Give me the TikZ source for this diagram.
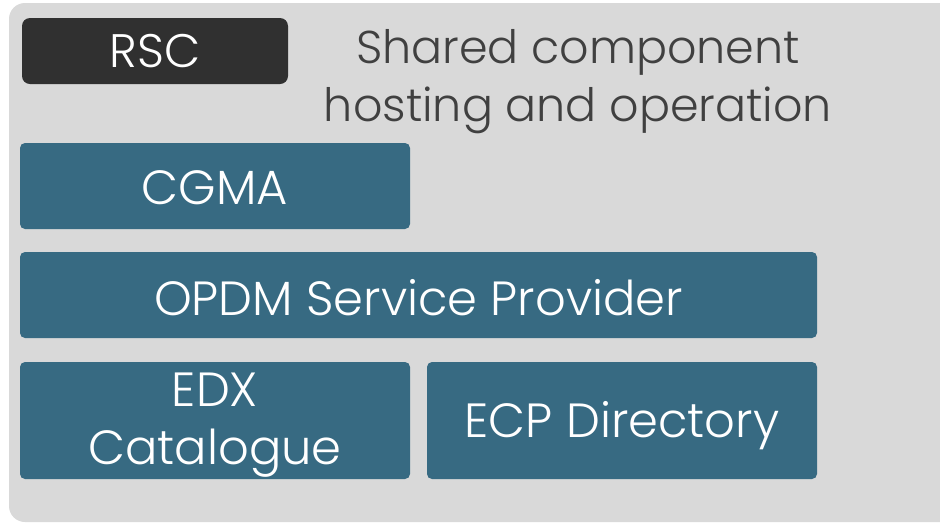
\documentclass[tikz,border=0pt]{standalone}
\usepackage{fontspec}
\setmainfont{Poppins Light}
\definecolor{panelgray}{HTML}{D9D9D9}
\definecolor{rscdark}{HTML}{303030}
\definecolor{compblue}{HTML}{376A82}
\definecolor{titlegray}{HTML}{404040}
\tikzset{
  compbox/.style={fill=compblue, rounded corners=5pt, inner sep=0pt},
  comptext/.style={text=white, align=center, font=\fontsize{48}{58}\selectfont, inner sep=0pt},
  rscbox/.style={fill=rscdark, text=white, rounded corners=8pt,
    font=\fontsize{47}{55}\selectfont, inner sep=0pt},
}
\begin{document}
\begin{tikzpicture}[x=1pt, y=-1pt]
    \useasboundingbox[fill=white] (0, 0) rectangle (940, 523) ;
    \begin{scope}
      \fill[panelgray, rounded corners=16pt] (9, 3) rectangle (960, 522) ;
      \node[rscbox, minimum width=266pt, minimum height=66pt] (rsc) at (155, 51) {RSC} ;
      \node[text=titlegray, align=center, font=\fontsize{46}{58}\selectfont] (hosting) at (578, 82)
        {Shared component\\hosting and operation} ;
      \node[compbox, minimum width=390pt, minimum height=86pt] (cgma) at (215, 186) {} ;
      \node[comptext] (cgmatext) at ([yshift=-2pt]cgma.center) {CGMA} ;
      \node[compbox, minimum width=797pt, minimum height=86pt] (opdm) at (418.5, 295) {} ;
      \node[comptext] (opdmtext) at ([yshift=-3pt]opdm.center) {OPDM Service Provider} ;
      \node[compbox, minimum width=390pt, minimum height=117pt] (edx) at (215, 420.5) {} ;
      \node[comptext] (edxtext) at ([yshift=-5pt]edx.center) {EDX\\Catalogue} ;
      \node[compbox, minimum width=390pt, minimum height=117pt] (ecp) at (622, 420.5) {} ;
      \node[comptext] (ecptext) at ([yshift=-5pt]ecp.center) {ECP Directory} ;
    \end{scope}
  \end{tikzpicture}
\end{document}
